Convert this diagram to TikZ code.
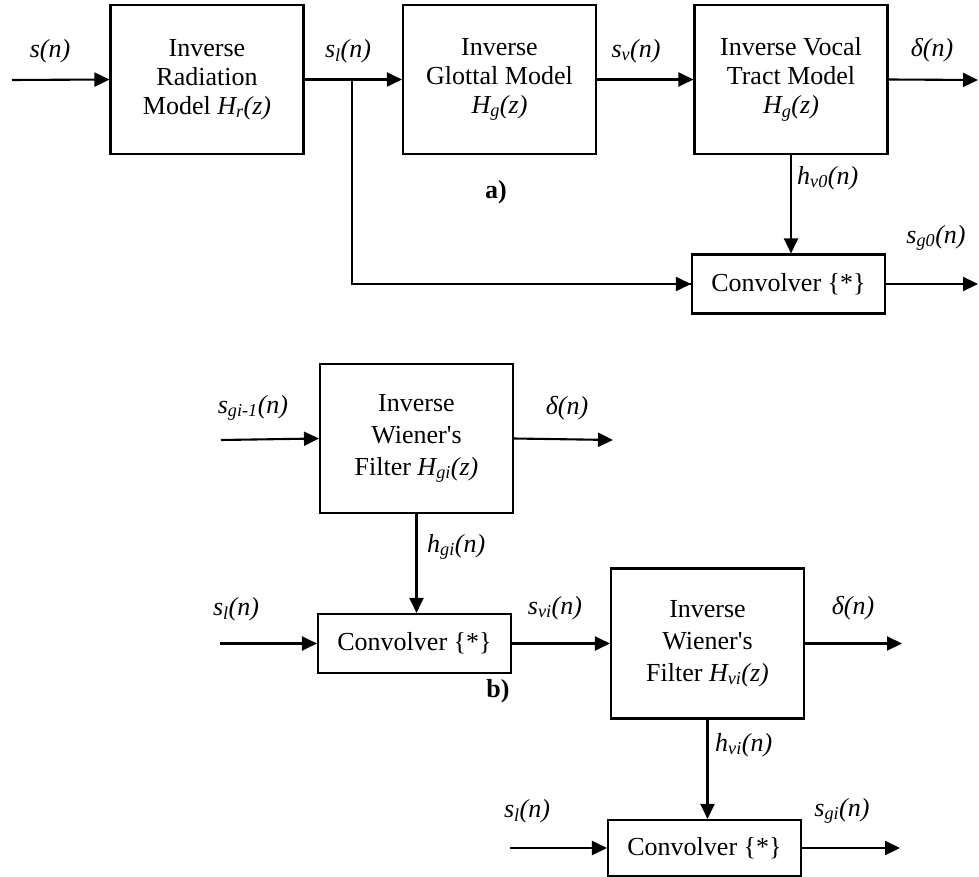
\documentclass[tikz,border=0pt]{standalone}
\usepackage{fontspec}
\setmainfont{Liberation Serif}
\usetikzlibrary{arrows.meta}
\newcommand\sub[1]{\textsubscript{#1}}
% straight apostrophe glyph, bypassing the TeX ligature mapping
\newcommand\apos{\XeTeXglyph\the\XeTeXcharglyph"0027\relax}
\begin{document}
\begin{tikzpicture}[x=1pt,y=-1pt,
  wire/.style={line width=2.1pt},
  flow/.style={wire, -{Triangle[length=15pt,width=14pt]}},
  blk/.style={draw, line width=2.1pt, minimum width=193pt, minimum height=149pt,
    inner sep=0pt, align=center, font=\fontsize{26}{29}\selectfont},
  wblk/.style={blk, font=\fontsize{26}{32}\selectfont},
  conv/.style={draw, line width=2.1pt, minimum width=193pt, minimum height=59pt,
    inner sep=0pt, font=\fontsize{26}{29}\selectfont},
  sig/.style={inner sep=0pt, font=\fontsize{26}{29}\selectfont\itshape},
  tag/.style={inner sep=0pt, font=\fontsize{26}{29}\selectfont\bfseries}]
\useasboundingbox (0,0) rectangle (979,877);

% ---------- a) ----------
\node[blk] (rad) at (207,79.5) {Inverse\\Radiation\\Model \textit{H\sub{r}(z)}};
\node[blk] (glo) at (499.5,79.5) {Inverse\\Glottal Model\\\textit{H\sub{g}(z)}};
\node[blk] (voc) at (791,79.5) {Inverse Vocal\\Tract Model\\\textit{H\sub{g}(z)}};
\node[conv] (cva) at (788.5,284) {Convolver \{*\}};

\coordinate (ina) at (12,80);
\coordinate (outa) at (978,80);
\coordinate (br) at (352,80);
\coordinate (outca) at (978,284);

\draw[flow] (ina) -- (rad.west);
\draw[flow] (rad.east) -- (glo.west);
\draw[flow] (glo.east) -- (voc.west);
\draw[flow] (voc.east) -- (outa);
\draw[wire] (br) |- (cva.west);
\draw[flow] (br |- cva.west) -- (cva.west);
\draw[flow] (voc.south) -- (voc.south |- cva.north);
\draw[flow] (cva.east) -- (outca);

\node[sig] (l1) at (50,51) {s(n)};
\node[sig] (l2) at (348,51) {s\sub{l}(n)};
\node[sig] (l3) at (636,51) {s\sub{v}(n)};
\node[sig] (l4) at (932,50) {δ(n)};
\node[sig, anchor=west] (l5) at (797,178) {h\sub{v0}(n)};
\node[sig] (l6) at (936,238) {s\sub{g0}(n)};
\node[tag] (ta) at (496,192) {a)};

% ---------- b) ----------
\node[wblk] (wg) at (416.5,438.5) {Inverse\\Wiener\apos s\\Filter \textit{H\sub{gi}(z)}};
\node[conv] (cvb) at (414.5,643.5) {Convolver \{*\}};
\node[wblk, minimum height=150pt] (wv) at (707.5,643.5) {Inverse\\Wiener\apos s\\Filter \textit{H\sub{vi}(z)}};
\node[conv, minimum height=56pt] (cvc) at (704.5,848) {Convolver \{*\}};

\coordinate (ing) at (221,440);
\coordinate (outg) at (613,440);
\coordinate (inb) at (220,643.5);
\coordinate (outv) at (902,643.5);
\coordinate (inc) at (510,848);
\coordinate (outc) at (900,848);

\draw[flow] (ing) -- (wg.west);
\draw[flow] (wg.east) -- (outg);
\draw[flow] (wg.south) -- (wg.south |- cvb.north);
\draw[flow] (inb) -- (cvb.west);
\draw[flow] (cvb.east) -- (wv.west);
\draw[flow] (wv.east) -- (outv);
\draw[flow] (wv.south) -- (wv.south |- cvc.north);
\draw[flow] (inc) -- (cvc.west);
\draw[flow] (cvc.east) -- (outc);

\node[sig] (m1) at (253,408) {s\sub{gi-1}(n)};
\node[sig] (m2) at (567,408) {δ(n)};
\node[sig, anchor=west] (m3) at (427,547) {h\sub{gi}(n)};
\node[sig] (m4) at (236,609) {s\sub{l}(n)};
\node[sig] (m5) at (555,608) {s\sub{vi}(n)};
\node[sig] (m6) at (853,608) {δ(n)};
\node[sig, anchor=west] (m7) at (715,745) {h\sub{vi}(n)};
\node[sig] (m8) at (527,811) {s\sub{l}(n)};
\node[sig] (m9) at (842,811) {s\sub{gi}(n)};
\node[tag] (tb) at (498,691) {b)};
\end{tikzpicture}
\end{document}
